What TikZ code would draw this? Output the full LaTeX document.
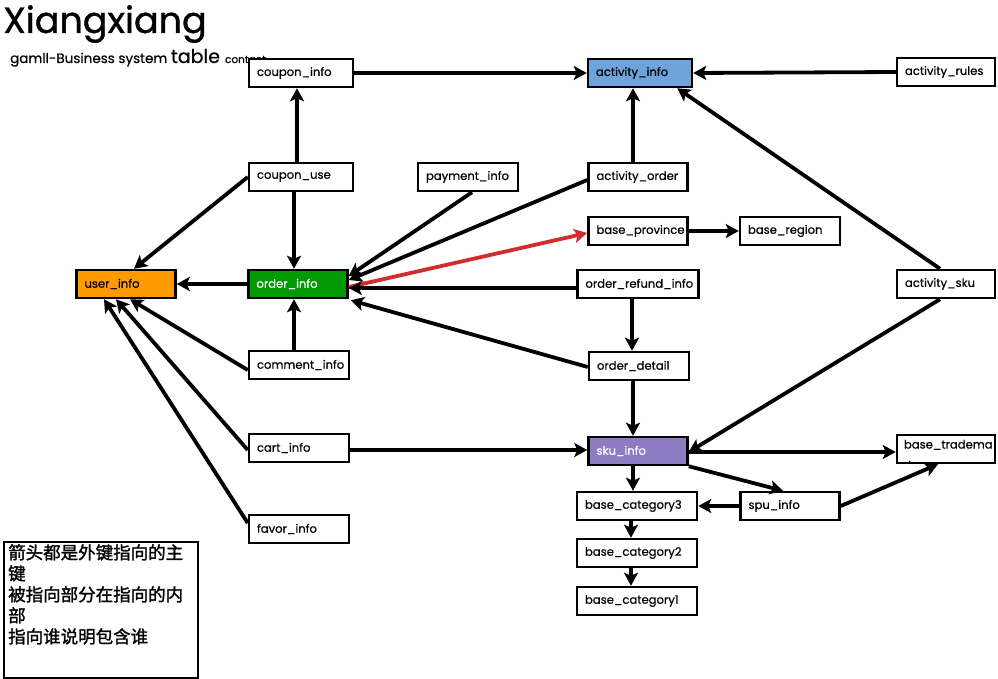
\documentclass[tikz,border=0pt]{standalone}
\usepackage{fontspec}
\setmainfont{Poppins}
\newfontfamily\boxfont[FakeBold=0.6]{Poppins}
\newfontfamily\titlefont[FakeBold=1]{Poppins}
\newfontfamily\cjk[FakeBold=1.5]{Noto Sans CJK SC}
\usetikzlibrary{arrows.meta}
\definecolor{actblue}{RGB}{111,163,219}
\definecolor{userorange}{RGB}{255,154,0}
\definecolor{ordergreen}{RGB}{0,154,0}
\definecolor{skupurple}{RGB}{142,124,195}
\definecolor{redarrow}{RGB}{210,45,45}
\tikzset{
  box/.style={draw=black, line width=2.5pt, fill=white, rectangle, minimum height=28, inner xsep=8, inner ysep=0, align=left, font=\boxfont\fontsize{11.6}{16}\selectfont},
  fk/.style={line width=3.8pt, -{Stealth[length=13pt,width=14pt,inset=3pt]}},
}
\begin{document}
\begin{tikzpicture}[x=1pt,y=-1pt]
\useasboundingbox (0,0) rectangle (998,679);
% title
\node[anchor=base west, inner sep=0, font=\titlefont\fontsize{36.5}{36}\selectfont] (title) at (3,33) {Xiangxiang};
\node[anchor=base west, inner sep=0, font=\boxfont] (subtitle) at (10,63) {\fontsize{13.5}{14}\selectfont gamll-Business system \fontsize{19}{20}\selectfont table \fontsize{10.5}{10}\selectfont contact};
% boxes
\node[box, text width=88] (coupon_info) at (301,73) {coupon\_info};
\node[box, text width=88, fill=actblue] (activity_info) at (640,73) {activity\_info};
\node[box, text width=82] (activity_rules) at (946,72) {activity\_rules};
\node[box, text width=88] (coupon_use) at (301,177) {coupon\_use};
\node[box, text width=84] (payment_info) at (468,177) {payment\_info};
\node[box, text width=83] (activity_order) at (638,177) {activity\_order};
\node[box, text width=83] (base_province) at (638,231) {base\_province};
\node[box, text width=84] (base_region) at (790,231) {base\_region};
\node[box, text width=83, fill=userorange] (user_info) at (126,284) {user\_info};
\node[box, text width=83, fill=ordergreen, text=white] (order_info) at (298,284) {order\_info};
\node[box, text width=105] (order_refund_info) at (638,284) {order\_refund\_info};
\node[box, text width=82] (activity_sku) at (946,284) {activity\_sku};
\node[box, text width=84] (comment_info) at (299,365) {comment\_info};
\node[box, text width=84] (order_detail) at (639,366) {order\_detail};
\node[box, text width=84] (cart_info) at (299,448) {cart\_info};
\node[box, text width=83, fill=skupurple, text=white] (sku_info) at (638,451) {sku\_info};
\node[box, text width=82] (base_tradema) at (946,449) {};
\begin{scope}
\clip ([xshift=1.3,yshift=1.3]base_tradema.south west) rectangle ([xshift=-1.3,yshift=-1.3]base_tradema.north east);
\node[anchor=north west, inner sep=0, align=left, font=\boxfont\fontsize{11.6}{21}\selectfont] (trademark_text) at ([xshift=8,yshift=-6]base_tradema.north west) {base\_tradema\\rk};
\end{scope}
\node[box, text width=104] (base_category3) at (637,506) {base\_category3};
\node[box, text width=83] (spu_info) at (790,506) {spu\_info};
\node[box, text width=104] (base_category2) at (637,553) {base\_category2};
\node[box, text width=104] (base_category1) at (637,601) {base\_category1};
\node[box, text width=84] (favor_info) at (299,529) {favor\_info};
% note
\node[draw=black, line width=2pt, minimum width=194, minimum height=136, anchor=north west, inner sep=0] (note) at (3,541) {};
\node[anchor=north west, inner sep=0, align=left, font=\cjk\fontsize{17.5}{21}\selectfont] (notetext) at ([xshift=5,yshift=-3]note.north west) {箭头都是外键指向的主\\键\\被指向部分在指向的内\\部\\指向谁说明包含谁};
% connectors
\draw[fk] (coupon_info.east) -- (activity_info.west);
\draw[fk] (activity_rules.west) -- (activity_info.east);
\draw[fk] ([xshift=-4]coupon_use.north) -- ([xshift=-4]coupon_info.south);
\draw[fk] ([xshift=-5]activity_order.north) -- ([xshift=-7]activity_info.south);
\draw[fk] ([xshift=-6]activity_sku.north) -- ([xshift=-16]activity_info.south east);
\draw[fk] (coupon_use.west) -- ([xshift=8]user_info.north);
\draw[fk] ([xshift=-7]coupon_use.south) -- ([xshift=-4]order_info.north);
\draw[fk] ([xshift=4]payment_info.south) -- ([yshift=8]order_info.east);
\draw[fk] ([yshift=-3]activity_order.west) -- ([yshift=4]order_info.east);
\draw[fk, draw=redarrow, -{Stealth[length=13pt,width=14pt,inset=3pt,fill=redarrow]}] ([yshift=-3]order_info.east) -- ([yshift=-2]base_province.west);
\draw[fk] (base_province.east) -- (base_region.west);
\draw[fk] ([yshift=-4]order_refund_info.west) -- ([yshift=-4]order_info.east);
\draw[fk] ([xshift=-6]order_refund_info.south) -- ([xshift=-7]order_detail.north);
\draw[fk] ([yshift=-1]order_detail.west) -- ([xshift=2,yshift=-1]order_info.south east);
\draw[fk] (order_info.west) -- (user_info.east);
\draw[fk] ([xshift=-5]comment_info.north) -- ([xshift=-4]order_info.south);
\draw[fk] ([yshift=-5]comment_info.west) -- ([xshift=4]user_info.south);
\draw[fk] ([yshift=-2]cart_info.west) -- ([xshift=-10]user_info.south);
\draw[fk] ([yshift=6]favor_info.west) -- ([xshift=-22]user_info.south);
\draw[fk] ([yshift=-2]cart_info.east) -- ([yshift=1]sku_info.west);
\draw[fk] ([xshift=-6]order_detail.south) -- ([xshift=-5]sku_info.north);
\draw[fk] ([xshift=-6]activity_sku.south) -- ([yshift=-1]sku_info.east);
\draw[fk] ([yshift=-1]sku_info.east) -- ([yshift=-3]base_tradema.west);
\draw[fk] (sku_info.south east) -- ([xshift=-7]spu_info.north);
\draw[fk] (spu_info.east) -- ([xshift=-8]base_tradema.south);
\draw[fk] (spu_info.west) -- (base_category3.east);
\draw[fk] ([xshift=-5]sku_info.south) -- ([xshift=-4]base_category3.north);
\draw[fk] ([xshift=-6]base_category3.south) -- ([xshift=-6]base_category2.north);
\draw[fk] ([xshift=-6]base_category2.south) -- ([xshift=-6]base_category1.north);
\end{tikzpicture}
\end{document}
